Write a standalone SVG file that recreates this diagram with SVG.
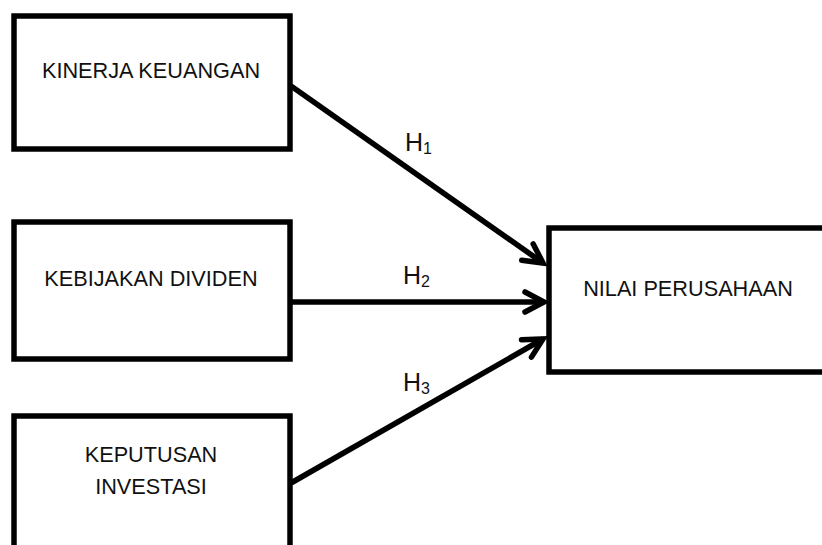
<svg xmlns="http://www.w3.org/2000/svg" width="822" height="545" viewBox="0 0 822 545">
  <style>
    .box { fill: #ffffff; stroke: #000000; stroke-width: 5.5; }
    .lbl { font-family: "Liberation Sans", Arial, sans-serif; font-size: 21.7px; fill: #111111; text-anchor: middle; }
    .h { font-family: "Liberation Sans", Arial, sans-serif; font-size: 25px; fill: #111111; }
    .sub { font-size: 16px; }
    .conn { stroke: #000000; stroke-width: 5.5; fill: none; }
  </style>
  <defs>
    <marker id="arr" markerUnits="userSpaceOnUse" markerWidth="40" markerHeight="40" refX="0" refY="0" viewBox="-30 -20 40 40" orient="auto" overflow="visible">
      <path d="M -19 -10 L 0 0 L -19 10" fill="none" stroke="#000000" stroke-width="5.5" stroke-linecap="round" stroke-linejoin="miter"/>
    </marker>
  </defs>
  <rect width="822" height="545" fill="#ffffff"/>
  <g id="node-kinerja">
    <rect class="box" x="14" y="16" width="276" height="133"/>
    <text class="lbl" x="151" y="78">KINERJA KEUANGAN</text>
  </g>
  <g id="node-kebijakan">
    <rect class="box" x="14" y="222" width="276" height="137"/>
    <text class="lbl" x="151" y="286">KEBIJAKAN DIVIDEN</text>
  </g>
  <g id="node-keputusan">
    <rect class="box" x="14" y="416" width="276" height="140"/>
    <text class="lbl" x="151" y="462">KEPUTUSAN</text>
    <text class="lbl" x="151" y="494">INVESTASI</text>
  </g>
  <g id="node-nilai">
    <rect class="box" x="549" y="228" width="290" height="144"/>
    <text class="lbl" x="688" y="296">NILAI PERUSAHAAN</text>
  </g>
  <g id="connectors">
    <line class="conn" x1="291" y1="86" x2="543" y2="263" marker-end="url(#arr)"/>
    <line class="conn" x1="291" y1="302" x2="544" y2="302" marker-end="url(#arr)"/>
    <line class="conn" x1="291" y1="483" x2="543" y2="339" marker-end="url(#arr)"/>
    <text class="h" x="405" y="151">H<tspan class="sub" dy="3">1</tspan></text>
    <text class="h" x="403" y="284">H<tspan class="sub" dy="3">2</tspan></text>
    <text class="h" x="403" y="391">H<tspan class="sub" dy="3">3</tspan></text>
  </g>
</svg>
